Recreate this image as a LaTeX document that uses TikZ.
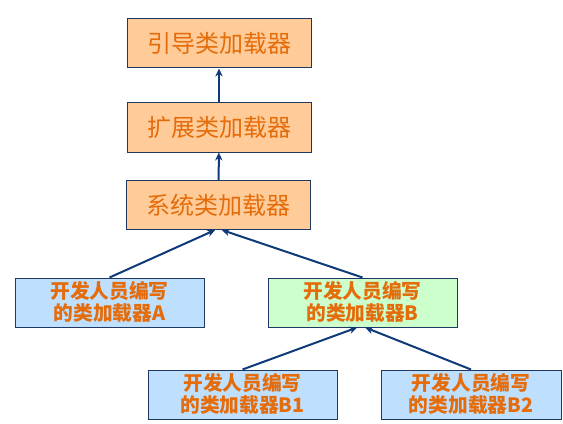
\documentclass[tikz,border=0pt]{standalone}
\usepackage{fontspec}
\newfontfamily\cjk{Noto Sans CJK SC}
\usetikzlibrary{arrows.meta}
\definecolor{loaderorange}{HTML}{FFCC99}
\definecolor{userblue}{HTML}{BFDFFF}
\definecolor{usergreen}{HTML}{CCFFCC}
\definecolor{boxline}{HTML}{1F3864}
\definecolor{arrowblue}{HTML}{0F3A7A}
\definecolor{textorange}{HTML}{E46C0A}

\begin{document}
\begin{tikzpicture}[x=0.75pt,y=0.75pt,yscale=-1,xscale=1,
  parentbox/.style={draw=boxline,line width=0.75pt,fill=loaderorange,minimum width=138pt,minimum height=36.75pt,inner sep=0.75pt,text=textorange,font=\cjk\fontsize{18}{22}\selectfont},
  userbox/.style={draw=boxline,line width=0.75pt,fill=userblue,minimum width=141.75pt,minimum height=36.75pt,inner sep=0.75pt,align=center,text=textorange,font=\cjk\bfseries\fontsize{14.8}{16.5}\selectfont},
  delegate/.style={draw=arrowblue,line width=1.5pt,-{Stealth[length=6pt,width=5.5pt]}}]
\useasboundingbox (0,0) rectangle (563,424);

% Parent loaders
\draw (219,43.5) node [parentbox] (boot) {引导类加载器};
\draw (219,127.5) node [parentbox] (ext) {扩展类加载器};
\draw (218.5,205) node [parentbox] (sys) {系统类加载器};

% User loaders
\draw (109.5,302.5) node [userbox] (userA) {开发人员编写\\的类加载器A};
\draw (362.5,302.5) node [userbox,fill=usergreen] (userB) {开发人员编写\\的类加载器B};
\draw (242.5,394.5) node [userbox] (userBa) {开发人员编写\\的类加载器B1};
\draw (471,394.5) node [userbox,minimum width=135pt] (userBb) {开发人员编写\\的类加载器B2};

% Delegation arrows
\draw [delegate] (ext) -- (boot);
\draw [delegate] (sys) -- (ext);
\draw [delegate] (userA.north) -- ([xshift=-2.5pt]sys.south);
\draw [delegate] (userB.north) -- ([xshift=2.5pt]sys.south);
\draw [delegate] (userBa.north) -- ([xshift=-4pt]userB.south);
\draw [delegate] (userBb.north) -- ([xshift=2pt]userB.south);

\end{tikzpicture}
\end{document}
